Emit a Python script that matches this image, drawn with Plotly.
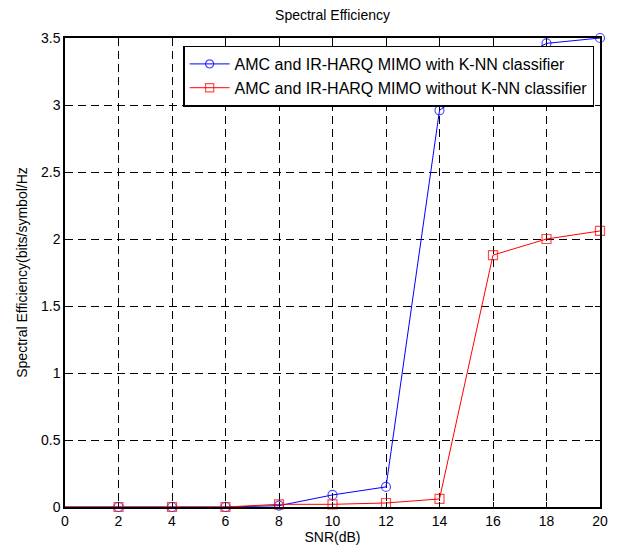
import plotly.graph_objects as go

# SNR sweep (dB)
snr_db = [0, 2, 4, 6, 8, 10, 12, 14, 16, 18, 20]

# Spectral efficiency (bits/symbol/Hz)
se_with_knn = [0, 0, 0, 0, 0.01, 0.09, 0.15, 2.96, 3.25, 3.46, 3.5]
se_without_knn = [0, 0, 0, 0, 0.02, 0.02, 0.03, 0.06, 1.88, 2.0, 2.06]

name_with = "AMC and IR-HARQ MIMO with K-NN classifier"
name_without = "AMC and IR-HARQ MIMO without K-NN classifier"

x_ticks = list(range(0, 21, 2))
y_ticks = [0, 0.5, 1, 1.5, 2, 2.5, 3, 3.5]
y_tick_text = ["0", "0.5", "1", "1.5", "2", "2.5", "3", "3.5"]

FONT = "Liberation Sans, Arial, sans-serif"

# no marker at the first sample (SNR = 0 dB)
marker_sizes = [0] + [9] * (len(snr_db) - 1)

fig = go.Figure()
fig.add_trace(go.Scatter(
    x=snr_db, y=se_with_knn, name=name_with, mode="lines+markers",
    line=dict(color="#0000ff", width=1),
    marker=dict(symbol="circle-open", size=marker_sizes, color="#0000ff",
                line=dict(width=1.2, color="#0000ff")),
    cliponaxis=False,
))
fig.add_trace(go.Scatter(
    x=snr_db, y=se_without_knn, name=name_without, mode="lines+markers",
    line=dict(color="#ff0000", width=1),
    marker=dict(symbol="square-open", size=marker_sizes, color="#ff0000",
                line=dict(width=1.2, color="#ff0000")),
    cliponaxis=False,
))

axis_common = dict(
    showline=True, linecolor="black", linewidth=1.5, mirror="allticks",
    ticks="inside", ticklen=5, tickwidth=1, tickcolor="black",
    showgrid=True, gridcolor="black", gridwidth=1, griddash="8px,5px",
    zeroline=False,
    tickfont=dict(family=FONT, size=14, color="black"),
)

fig.update_xaxes(
    range=[0, 20], tickvals=x_ticks, ticktext=[str(v) for v in x_ticks],
    title=dict(text="SNR(dB)", font=dict(family=FONT, size=14, color="black"),
               standoff=4),
    **axis_common,
)
fig.update_yaxes(
    range=[0, 3.5], tickvals=y_ticks, ticktext=y_tick_text,
    title=dict(text="Spectral Efficiency(bits/symbol/Hz",
               font=dict(family=FONT, size=14, color="black"), standoff=10),
    **axis_common,
)

fig.update_layout(
    width=618, height=556,
    margin=dict(l=65, r=10, t=38, b=49),
    paper_bgcolor="white", plot_bgcolor="white",
    font=dict(family=FONT, size=14, color="black"),
    title=dict(text="Spectral Efficiency", x=0.5, xref="paper", xanchor="center",
               y=1 - 15 / 556, yanchor="middle",
               font=dict(family=FONT, size=14, color="black")),
    legend=dict(
        x=0.989, xanchor="right", y=0.984, yanchor="top",
        bgcolor="white", bordercolor="black", borderwidth=1.5,
        font=dict(family=FONT, size=16, color="black"),
        itemwidth=40, tracegroupgap=0,
    ),
    showlegend=True,
)

fig.write_html("out.html")
